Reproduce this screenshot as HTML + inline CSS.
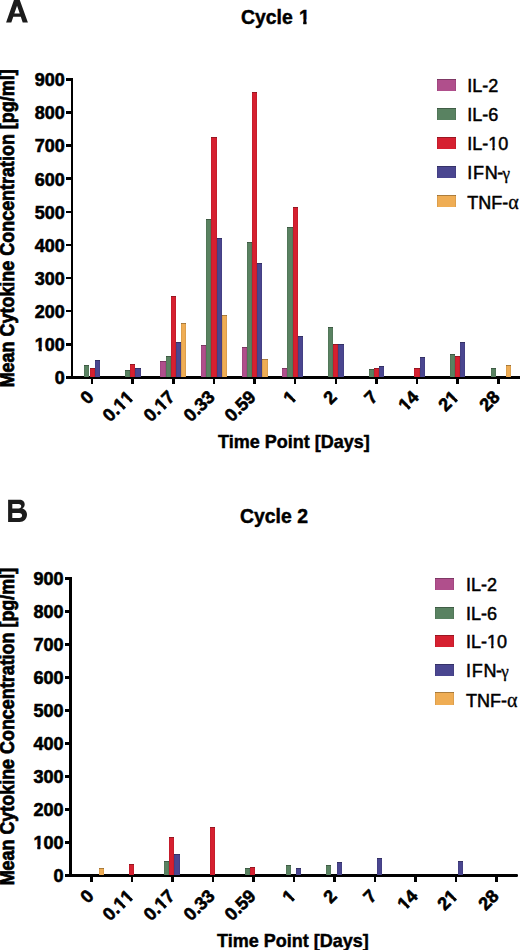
<!DOCTYPE html>
<html><head><meta charset="utf-8"><style>
html,body{margin:0;padding:0;background:#fff;}
body{width:520px;height:950px;position:relative;overflow:hidden;font-family:"Liberation Sans", sans-serif;}
div,span{position:absolute;}
span{white-space:nowrap;}
</style></head><body>
<div style="left:70.80px;top:78.10px;width:2.60px;height:300.60px;background:#000;"></div>
<div style="left:70.80px;top:376.10px;width:449.20px;height:2.60px;background:#000;"></div>
<div style="left:66.00px;top:376.10px;width:5.30px;height:2.60px;background:#000;"></div>
<span style="right:455.20px;top:369.27px;font-size:18px;line-height:18px;font-weight:bold;color:#000;-webkit-text-stroke:0.6px #000;">0</span>
<div style="left:66.00px;top:342.99px;width:5.30px;height:2.60px;background:#000;"></div>
<span style="right:455.20px;top:336.16px;font-size:18px;line-height:18px;font-weight:bold;color:#000;-webkit-text-stroke:0.6px #000;"><i style="font-style:normal;display:inline-block;clip-path:polygon(-20% -20%,120% -20%,120% 62%,69.5% 62%,69.5% 120%,39% 120%,39% 62%,-20% 62%)">1</i>00</span>
<div style="left:66.00px;top:309.88px;width:5.30px;height:2.60px;background:#000;"></div>
<span style="right:455.20px;top:303.05px;font-size:18px;line-height:18px;font-weight:bold;color:#000;-webkit-text-stroke:0.6px #000;">200</span>
<div style="left:66.00px;top:276.77px;width:5.30px;height:2.60px;background:#000;"></div>
<span style="right:455.20px;top:269.94px;font-size:18px;line-height:18px;font-weight:bold;color:#000;-webkit-text-stroke:0.6px #000;">300</span>
<div style="left:66.00px;top:243.66px;width:5.30px;height:2.60px;background:#000;"></div>
<span style="right:455.20px;top:236.82px;font-size:18px;line-height:18px;font-weight:bold;color:#000;-webkit-text-stroke:0.6px #000;">400</span>
<div style="left:66.00px;top:210.54px;width:5.30px;height:2.60px;background:#000;"></div>
<span style="right:455.20px;top:203.71px;font-size:18px;line-height:18px;font-weight:bold;color:#000;-webkit-text-stroke:0.6px #000;">500</span>
<div style="left:66.00px;top:177.43px;width:5.30px;height:2.60px;background:#000;"></div>
<span style="right:455.20px;top:170.60px;font-size:18px;line-height:18px;font-weight:bold;color:#000;-webkit-text-stroke:0.6px #000;">600</span>
<div style="left:66.00px;top:144.32px;width:5.30px;height:2.60px;background:#000;"></div>
<span style="right:455.20px;top:137.49px;font-size:18px;line-height:18px;font-weight:bold;color:#000;-webkit-text-stroke:0.6px #000;">700</span>
<div style="left:66.00px;top:111.21px;width:5.30px;height:2.60px;background:#000;"></div>
<span style="right:455.20px;top:104.38px;font-size:18px;line-height:18px;font-weight:bold;color:#000;-webkit-text-stroke:0.6px #000;">800</span>
<div style="left:66.00px;top:78.10px;width:5.30px;height:2.60px;background:#000;"></div>
<span style="right:455.20px;top:71.27px;font-size:18px;line-height:18px;font-weight:bold;color:#000;-webkit-text-stroke:0.6px #000;">900</span>
<div style="left:90.80px;top:378.20px;width:2.60px;height:5.60px;background:#000;"></div>
<div style="left:84.30px;top:364.50px;width:5.20px;height:12.10px;background:#598261;box-shadow:inset 0 1px 0 rgba(0,0,0,.28),inset 1px 0 0 rgba(0,0,0,.08),inset -1px 0 0 rgba(0,0,0,.08);"></div>
<div style="left:89.50px;top:367.80px;width:5.20px;height:8.80px;background:#d62030;box-shadow:inset 0 1px 0 rgba(0,0,0,.28),inset 1px 0 0 rgba(0,0,0,.08),inset -1px 0 0 rgba(0,0,0,.08);"></div>
<div style="left:94.70px;top:359.80px;width:5.20px;height:16.80px;background:#4a4690;box-shadow:inset 0 1px 0 rgba(0,0,0,.28),inset 1px 0 0 rgba(0,0,0,.08),inset -1px 0 0 rgba(0,0,0,.08);"></div>
<span style="right:425.40px;top:383.36px;font-size:18px;line-height:18px;font-weight:bold;transform-origin:100% 15.24px;transform:rotate(-45deg);-webkit-text-stroke:0.6px #000;">0</span>
<div style="left:131.42px;top:378.20px;width:2.60px;height:5.60px;background:#000;"></div>
<div style="left:124.92px;top:370.00px;width:5.20px;height:6.60px;background:#598261;box-shadow:inset 0 1px 0 rgba(0,0,0,.28),inset 1px 0 0 rgba(0,0,0,.08),inset -1px 0 0 rgba(0,0,0,.08);"></div>
<div style="left:130.12px;top:363.80px;width:5.20px;height:12.80px;background:#d62030;box-shadow:inset 0 1px 0 rgba(0,0,0,.28),inset 1px 0 0 rgba(0,0,0,.08),inset -1px 0 0 rgba(0,0,0,.08);"></div>
<div style="left:135.32px;top:368.00px;width:5.20px;height:8.60px;background:#4a4690;box-shadow:inset 0 1px 0 rgba(0,0,0,.28),inset 1px 0 0 rgba(0,0,0,.08),inset -1px 0 0 rgba(0,0,0,.08);"></div>
<span style="right:384.78px;top:383.36px;font-size:18px;line-height:18px;font-weight:bold;transform-origin:100% 15.24px;transform:rotate(-45deg);-webkit-text-stroke:0.6px #000;">0.<i style="font-style:normal;display:inline-block;clip-path:polygon(-20% -20%,120% -20%,120% 62%,69.5% 62%,69.5% 120%,39% 120%,39% 62%,-20% 62%)">1</i><i style="font-style:normal;display:inline-block;clip-path:polygon(-20% -20%,120% -20%,120% 62%,69.5% 62%,69.5% 120%,39% 120%,39% 62%,-20% 62%)">1</i></span>
<div style="left:172.04px;top:378.20px;width:2.60px;height:5.60px;background:#000;"></div>
<div style="left:160.34px;top:361.30px;width:5.20px;height:15.30px;background:#b04f8c;box-shadow:inset 0 1px 0 rgba(0,0,0,.28),inset 1px 0 0 rgba(0,0,0,.08),inset -1px 0 0 rgba(0,0,0,.08);"></div>
<div style="left:165.54px;top:355.60px;width:5.20px;height:21.00px;background:#598261;box-shadow:inset 0 1px 0 rgba(0,0,0,.28),inset 1px 0 0 rgba(0,0,0,.08),inset -1px 0 0 rgba(0,0,0,.08);"></div>
<div style="left:170.74px;top:295.90px;width:5.20px;height:80.70px;background:#d62030;box-shadow:inset 0 1px 0 rgba(0,0,0,.28),inset 1px 0 0 rgba(0,0,0,.08),inset -1px 0 0 rgba(0,0,0,.08);"></div>
<div style="left:175.94px;top:341.60px;width:5.20px;height:35.00px;background:#4a4690;box-shadow:inset 0 1px 0 rgba(0,0,0,.28),inset 1px 0 0 rgba(0,0,0,.08),inset -1px 0 0 rgba(0,0,0,.08);"></div>
<div style="left:181.14px;top:322.60px;width:5.20px;height:54.00px;background:#efad54;box-shadow:inset 0 1px 0 rgba(0,0,0,.28),inset 1px 0 0 rgba(0,0,0,.08),inset -1px 0 0 rgba(0,0,0,.08);"></div>
<span style="right:344.16px;top:383.36px;font-size:18px;line-height:18px;font-weight:bold;transform-origin:100% 15.24px;transform:rotate(-45deg);-webkit-text-stroke:0.6px #000;">0.<i style="font-style:normal;display:inline-block;clip-path:polygon(-20% -20%,120% -20%,120% 62%,69.5% 62%,69.5% 120%,39% 120%,39% 62%,-20% 62%)">1</i>7</span>
<div style="left:212.66px;top:378.20px;width:2.60px;height:5.60px;background:#000;"></div>
<div style="left:200.96px;top:345.00px;width:5.20px;height:31.60px;background:#b04f8c;box-shadow:inset 0 1px 0 rgba(0,0,0,.28),inset 1px 0 0 rgba(0,0,0,.08),inset -1px 0 0 rgba(0,0,0,.08);"></div>
<div style="left:206.16px;top:218.70px;width:5.20px;height:157.90px;background:#598261;box-shadow:inset 0 1px 0 rgba(0,0,0,.28),inset 1px 0 0 rgba(0,0,0,.08),inset -1px 0 0 rgba(0,0,0,.08);"></div>
<div style="left:211.36px;top:137.20px;width:5.20px;height:239.40px;background:#d62030;box-shadow:inset 0 1px 0 rgba(0,0,0,.28),inset 1px 0 0 rgba(0,0,0,.08),inset -1px 0 0 rgba(0,0,0,.08);"></div>
<div style="left:216.56px;top:237.70px;width:5.20px;height:138.90px;background:#4a4690;box-shadow:inset 0 1px 0 rgba(0,0,0,.28),inset 1px 0 0 rgba(0,0,0,.08),inset -1px 0 0 rgba(0,0,0,.08);"></div>
<div style="left:221.76px;top:314.50px;width:5.20px;height:62.10px;background:#efad54;box-shadow:inset 0 1px 0 rgba(0,0,0,.28),inset 1px 0 0 rgba(0,0,0,.08),inset -1px 0 0 rgba(0,0,0,.08);"></div>
<span style="right:303.54px;top:383.36px;font-size:18px;line-height:18px;font-weight:bold;transform-origin:100% 15.24px;transform:rotate(-45deg);-webkit-text-stroke:0.6px #000;">0.33</span>
<div style="left:253.28px;top:378.20px;width:2.60px;height:5.60px;background:#000;"></div>
<div style="left:241.58px;top:347.30px;width:5.20px;height:29.30px;background:#b04f8c;box-shadow:inset 0 1px 0 rgba(0,0,0,.28),inset 1px 0 0 rgba(0,0,0,.08),inset -1px 0 0 rgba(0,0,0,.08);"></div>
<div style="left:246.78px;top:242.10px;width:5.20px;height:134.50px;background:#598261;box-shadow:inset 0 1px 0 rgba(0,0,0,.28),inset 1px 0 0 rgba(0,0,0,.08),inset -1px 0 0 rgba(0,0,0,.08);"></div>
<div style="left:251.98px;top:91.60px;width:5.20px;height:285.00px;background:#d62030;box-shadow:inset 0 1px 0 rgba(0,0,0,.28),inset 1px 0 0 rgba(0,0,0,.08),inset -1px 0 0 rgba(0,0,0,.08);"></div>
<div style="left:257.18px;top:262.90px;width:5.20px;height:113.70px;background:#4a4690;box-shadow:inset 0 1px 0 rgba(0,0,0,.28),inset 1px 0 0 rgba(0,0,0,.08),inset -1px 0 0 rgba(0,0,0,.08);"></div>
<div style="left:262.38px;top:359.10px;width:5.20px;height:17.50px;background:#efad54;box-shadow:inset 0 1px 0 rgba(0,0,0,.28),inset 1px 0 0 rgba(0,0,0,.08),inset -1px 0 0 rgba(0,0,0,.08);"></div>
<span style="right:262.92px;top:383.36px;font-size:18px;line-height:18px;font-weight:bold;transform-origin:100% 15.24px;transform:rotate(-45deg);-webkit-text-stroke:0.6px #000;">0.59</span>
<div style="left:293.90px;top:378.20px;width:2.60px;height:5.60px;background:#000;"></div>
<div style="left:282.20px;top:368.10px;width:5.20px;height:8.50px;background:#b04f8c;box-shadow:inset 0 1px 0 rgba(0,0,0,.28),inset 1px 0 0 rgba(0,0,0,.08),inset -1px 0 0 rgba(0,0,0,.08);"></div>
<div style="left:287.40px;top:226.60px;width:5.20px;height:150.00px;background:#598261;box-shadow:inset 0 1px 0 rgba(0,0,0,.28),inset 1px 0 0 rgba(0,0,0,.08),inset -1px 0 0 rgba(0,0,0,.08);"></div>
<div style="left:292.60px;top:206.50px;width:5.20px;height:170.10px;background:#d62030;box-shadow:inset 0 1px 0 rgba(0,0,0,.28),inset 1px 0 0 rgba(0,0,0,.08),inset -1px 0 0 rgba(0,0,0,.08);"></div>
<div style="left:297.80px;top:335.90px;width:5.20px;height:40.70px;background:#4a4690;box-shadow:inset 0 1px 0 rgba(0,0,0,.28),inset 1px 0 0 rgba(0,0,0,.08),inset -1px 0 0 rgba(0,0,0,.08);"></div>
<span style="right:222.30px;top:383.36px;font-size:18px;line-height:18px;font-weight:bold;transform-origin:100% 15.24px;transform:rotate(-45deg);-webkit-text-stroke:0.6px #000;"><i style="font-style:normal;display:inline-block;clip-path:polygon(-20% -20%,120% -20%,120% 62%,69.5% 62%,69.5% 120%,39% 120%,39% 62%,-20% 62%)">1</i></span>
<div style="left:334.52px;top:378.20px;width:2.60px;height:5.60px;background:#000;"></div>
<div style="left:328.02px;top:326.90px;width:5.20px;height:49.70px;background:#598261;box-shadow:inset 0 1px 0 rgba(0,0,0,.28),inset 1px 0 0 rgba(0,0,0,.08),inset -1px 0 0 rgba(0,0,0,.08);"></div>
<div style="left:333.22px;top:343.90px;width:5.20px;height:32.70px;background:#d62030;box-shadow:inset 0 1px 0 rgba(0,0,0,.28),inset 1px 0 0 rgba(0,0,0,.08),inset -1px 0 0 rgba(0,0,0,.08);"></div>
<div style="left:338.42px;top:343.90px;width:5.20px;height:32.70px;background:#4a4690;box-shadow:inset 0 1px 0 rgba(0,0,0,.28),inset 1px 0 0 rgba(0,0,0,.08),inset -1px 0 0 rgba(0,0,0,.08);"></div>
<span style="right:181.68px;top:383.36px;font-size:18px;line-height:18px;font-weight:bold;transform-origin:100% 15.24px;transform:rotate(-45deg);-webkit-text-stroke:0.6px #000;">2</span>
<div style="left:375.14px;top:378.20px;width:2.60px;height:5.60px;background:#000;"></div>
<div style="left:368.64px;top:369.40px;width:5.20px;height:7.20px;background:#598261;box-shadow:inset 0 1px 0 rgba(0,0,0,.28),inset 1px 0 0 rgba(0,0,0,.08),inset -1px 0 0 rgba(0,0,0,.08);"></div>
<div style="left:373.84px;top:368.10px;width:5.20px;height:8.50px;background:#d62030;box-shadow:inset 0 1px 0 rgba(0,0,0,.28),inset 1px 0 0 rgba(0,0,0,.08),inset -1px 0 0 rgba(0,0,0,.08);"></div>
<div style="left:379.04px;top:366.30px;width:5.20px;height:10.30px;background:#4a4690;box-shadow:inset 0 1px 0 rgba(0,0,0,.28),inset 1px 0 0 rgba(0,0,0,.08),inset -1px 0 0 rgba(0,0,0,.08);"></div>
<span style="right:141.06px;top:383.36px;font-size:18px;line-height:18px;font-weight:bold;transform-origin:100% 15.24px;transform:rotate(-45deg);-webkit-text-stroke:0.6px #000;">7</span>
<div style="left:415.76px;top:378.20px;width:2.60px;height:5.60px;background:#000;"></div>
<div style="left:414.46px;top:368.30px;width:5.20px;height:8.30px;background:#d62030;box-shadow:inset 0 1px 0 rgba(0,0,0,.28),inset 1px 0 0 rgba(0,0,0,.08),inset -1px 0 0 rgba(0,0,0,.08);"></div>
<div style="left:419.66px;top:356.70px;width:5.20px;height:19.90px;background:#4a4690;box-shadow:inset 0 1px 0 rgba(0,0,0,.28),inset 1px 0 0 rgba(0,0,0,.08),inset -1px 0 0 rgba(0,0,0,.08);"></div>
<span style="right:100.44px;top:383.36px;font-size:18px;line-height:18px;font-weight:bold;transform-origin:100% 15.24px;transform:rotate(-45deg);-webkit-text-stroke:0.6px #000;"><i style="font-style:normal;display:inline-block;clip-path:polygon(-20% -20%,120% -20%,120% 62%,69.5% 62%,69.5% 120%,39% 120%,39% 62%,-20% 62%)">1</i>4</span>
<div style="left:456.38px;top:378.20px;width:2.60px;height:5.60px;background:#000;"></div>
<div style="left:449.88px;top:354.10px;width:5.20px;height:22.50px;background:#598261;box-shadow:inset 0 1px 0 rgba(0,0,0,.28),inset 1px 0 0 rgba(0,0,0,.08),inset -1px 0 0 rgba(0,0,0,.08);"></div>
<div style="left:455.08px;top:356.30px;width:5.20px;height:20.30px;background:#d62030;box-shadow:inset 0 1px 0 rgba(0,0,0,.28),inset 1px 0 0 rgba(0,0,0,.08),inset -1px 0 0 rgba(0,0,0,.08);"></div>
<div style="left:460.28px;top:341.60px;width:5.20px;height:35.00px;background:#4a4690;box-shadow:inset 0 1px 0 rgba(0,0,0,.28),inset 1px 0 0 rgba(0,0,0,.08),inset -1px 0 0 rgba(0,0,0,.08);"></div>
<span style="right:59.82px;top:383.36px;font-size:18px;line-height:18px;font-weight:bold;transform-origin:100% 15.24px;transform:rotate(-45deg);-webkit-text-stroke:0.6px #000;">2<i style="font-style:normal;display:inline-block;clip-path:polygon(-20% -20%,120% -20%,120% 62%,69.5% 62%,69.5% 120%,39% 120%,39% 62%,-20% 62%)">1</i></span>
<div style="left:497.00px;top:378.20px;width:2.60px;height:5.60px;background:#000;"></div>
<div style="left:490.50px;top:368.00px;width:5.20px;height:8.60px;background:#598261;box-shadow:inset 0 1px 0 rgba(0,0,0,.28),inset 1px 0 0 rgba(0,0,0,.08),inset -1px 0 0 rgba(0,0,0,.08);"></div>
<div style="left:506.10px;top:365.00px;width:5.20px;height:11.60px;background:#efad54;box-shadow:inset 0 1px 0 rgba(0,0,0,.28),inset 1px 0 0 rgba(0,0,0,.08),inset -1px 0 0 rgba(0,0,0,.08);"></div>
<span style="right:19.20px;top:383.36px;font-size:18px;line-height:18px;font-weight:bold;transform-origin:100% 15.24px;transform:rotate(-45deg);-webkit-text-stroke:0.6px #000;">28</span>
<div style="left:437.00px;top:79.20px;width:19.20px;height:12.30px;background:#b04f8c;box-shadow:inset 0 1px 0 rgba(0,0,0,.28),inset 1px 0 0 rgba(0,0,0,.08),inset -1px 0 0 rgba(0,0,0,.08);"></div>
<span style="left:467.20px;top:77.46px;font-size:18px;line-height:18px;font-weight:normal;color:#000;-webkit-text-stroke:0.5px #000;">IL-2</span>
<div style="left:437.00px;top:108.15px;width:19.20px;height:12.30px;background:#598261;box-shadow:inset 0 1px 0 rgba(0,0,0,.28),inset 1px 0 0 rgba(0,0,0,.08),inset -1px 0 0 rgba(0,0,0,.08);"></div>
<span style="left:467.20px;top:106.41px;font-size:18px;line-height:18px;font-weight:normal;color:#000;-webkit-text-stroke:0.5px #000;">IL-6</span>
<div style="left:437.00px;top:137.10px;width:19.20px;height:12.30px;background:#d62030;box-shadow:inset 0 1px 0 rgba(0,0,0,.28),inset 1px 0 0 rgba(0,0,0,.08),inset -1px 0 0 rgba(0,0,0,.08);"></div>
<span style="left:467.20px;top:135.36px;font-size:18px;line-height:18px;font-weight:normal;color:#000;-webkit-text-stroke:0.5px #000;">IL-<i style="font-style:normal;display:inline-block;clip-path:polygon(-20% -20%,120% -20%,120% 64%,64.5% 64%,64.5% 120%,42% 120%,42% 64%,-20% 64%)">1</i>0</span>
<div style="left:437.00px;top:166.05px;width:19.20px;height:12.30px;background:#4a4690;box-shadow:inset 0 1px 0 rgba(0,0,0,.28),inset 1px 0 0 rgba(0,0,0,.08),inset -1px 0 0 rgba(0,0,0,.08);"></div>
<span style="left:467.20px;top:164.31px;font-size:18px;line-height:18px;font-weight:normal;color:#000;-webkit-text-stroke:0.5px #000;"><b style="font-weight:normal;letter-spacing:0.8px">IFN</b><b style="font-weight:normal;margin-left:-1.3px">-</b><b style="font-weight:normal;font-family:'Liberation Serif',serif;font-size:17px;margin-left:-0.9px;-webkit-text-stroke:0.3px #000">&gamma;</b></span>
<div style="left:437.00px;top:195.00px;width:19.20px;height:12.30px;background:#efad54;box-shadow:inset 0 1px 0 rgba(0,0,0,.28),inset 1px 0 0 rgba(0,0,0,.08),inset -1px 0 0 rgba(0,0,0,.08);"></div>
<span style="left:467.20px;top:193.26px;font-size:18px;line-height:18px;font-weight:normal;color:#000;-webkit-text-stroke:0.5px #000;">TNF-<b style="font-weight:normal;font-family:'Liberation Serif',serif;font-size:20px;-webkit-text-stroke:0.3px #000">&alpha;</b></span>
<span style="left:241.20px;top:6.77px;font-size:20px;line-height:20px;font-weight:bold;color:#000;-webkit-text-stroke:0.45px #000;transform:scaleX(0.97);transform-origin:0 0;">Cycle <b style="margin-left:0.9px"><i style="font-style:normal;display:inline-block;clip-path:polygon(-20% -20%,120% -20%,120% 62%,69.5% 62%,69.5% 120%,39% 120%,39% 62%,-20% 62%)">1</i></b></span>
<span style="left:218.40px;top:433.24px;font-size:18.5px;line-height:18.5px;font-weight:bold;color:#000;-webkit-text-stroke:0.45px #000;transform:scaleX(0.974);transform-origin:0 0;">Time Point [Days]</span>
<span style="left:13.70px;top:370.96px;font-size:19.3px;line-height:19.3px;font-weight:bold;transform-origin:0 16.34px;transform:rotate(-90deg) scaleX(0.9306);-webkit-text-stroke:0.75px #000;">Mean Cytokine Concentration [pg/ml]</span>
<div style="left:69.30px;top:577.10px;width:2.60px;height:299.80px;background:#000;"></div>
<div style="left:69.30px;top:874.30px;width:448.70px;height:2.60px;background:#000;border-radius:0 1.3px 1.3px 0;"></div>
<div style="left:64.70px;top:874.30px;width:5.10px;height:2.60px;background:#000;"></div>
<span style="right:456.50px;top:867.47px;font-size:18px;line-height:18px;font-weight:bold;color:#000;-webkit-text-stroke:0.6px #000;">0</span>
<div style="left:64.70px;top:841.28px;width:5.10px;height:2.60px;background:#000;"></div>
<span style="right:456.50px;top:834.45px;font-size:18px;line-height:18px;font-weight:bold;color:#000;-webkit-text-stroke:0.6px #000;"><i style="font-style:normal;display:inline-block;clip-path:polygon(-20% -20%,120% -20%,120% 62%,69.5% 62%,69.5% 120%,39% 120%,39% 62%,-20% 62%)">1</i>00</span>
<div style="left:64.70px;top:808.26px;width:5.10px;height:2.60px;background:#000;"></div>
<span style="right:456.50px;top:801.42px;font-size:18px;line-height:18px;font-weight:bold;color:#000;-webkit-text-stroke:0.6px #000;">200</span>
<div style="left:64.70px;top:775.23px;width:5.10px;height:2.60px;background:#000;"></div>
<span style="right:456.50px;top:768.40px;font-size:18px;line-height:18px;font-weight:bold;color:#000;-webkit-text-stroke:0.6px #000;">300</span>
<div style="left:64.70px;top:742.21px;width:5.10px;height:2.60px;background:#000;"></div>
<span style="right:456.50px;top:735.38px;font-size:18px;line-height:18px;font-weight:bold;color:#000;-webkit-text-stroke:0.6px #000;">400</span>
<div style="left:64.70px;top:709.19px;width:5.10px;height:2.60px;background:#000;"></div>
<span style="right:456.50px;top:702.36px;font-size:18px;line-height:18px;font-weight:bold;color:#000;-webkit-text-stroke:0.6px #000;">500</span>
<div style="left:64.70px;top:676.17px;width:5.10px;height:2.60px;background:#000;"></div>
<span style="right:456.50px;top:669.34px;font-size:18px;line-height:18px;font-weight:bold;color:#000;-webkit-text-stroke:0.6px #000;">600</span>
<div style="left:64.70px;top:643.14px;width:5.10px;height:2.60px;background:#000;"></div>
<span style="right:456.50px;top:636.31px;font-size:18px;line-height:18px;font-weight:bold;color:#000;-webkit-text-stroke:0.6px #000;">700</span>
<div style="left:64.70px;top:610.12px;width:5.10px;height:2.60px;background:#000;"></div>
<span style="right:456.50px;top:603.29px;font-size:18px;line-height:18px;font-weight:bold;color:#000;-webkit-text-stroke:0.6px #000;">800</span>
<div style="left:64.70px;top:577.10px;width:5.10px;height:2.60px;background:#000;"></div>
<span style="right:456.50px;top:570.27px;font-size:18px;line-height:18px;font-weight:bold;color:#000;-webkit-text-stroke:0.6px #000;">900</span>
<div style="left:90.10px;top:876.40px;width:2.60px;height:5.50px;background:#000;"></div>
<div style="left:98.55px;top:867.50px;width:5.10px;height:7.30px;background:#efad54;box-shadow:inset 0 1px 0 rgba(0,0,0,.28),inset 1px 0 0 rgba(0,0,0,.08),inset -1px 0 0 rgba(0,0,0,.08);"></div>
<span style="right:425.40px;top:881.96px;font-size:18px;line-height:18px;font-weight:bold;transform-origin:100% 15.24px;transform:rotate(-45deg);-webkit-text-stroke:0.6px #000;">0</span>
<div style="left:130.61px;top:876.40px;width:2.60px;height:5.50px;background:#000;"></div>
<div style="left:128.86px;top:864.00px;width:5.10px;height:10.80px;background:#d62030;box-shadow:inset 0 1px 0 rgba(0,0,0,.28),inset 1px 0 0 rgba(0,0,0,.08),inset -1px 0 0 rgba(0,0,0,.08);"></div>
<span style="right:384.89px;top:881.96px;font-size:18px;line-height:18px;font-weight:bold;transform-origin:100% 15.24px;transform:rotate(-45deg);-webkit-text-stroke:0.6px #000;">0.<i style="font-style:normal;display:inline-block;clip-path:polygon(-20% -20%,120% -20%,120% 62%,69.5% 62%,69.5% 120%,39% 120%,39% 62%,-20% 62%)">1</i><i style="font-style:normal;display:inline-block;clip-path:polygon(-20% -20%,120% -20%,120% 62%,69.5% 62%,69.5% 120%,39% 120%,39% 62%,-20% 62%)">1</i></span>
<div style="left:171.12px;top:876.40px;width:2.60px;height:5.50px;background:#000;"></div>
<div style="left:164.27px;top:861.40px;width:5.10px;height:13.40px;background:#598261;box-shadow:inset 0 1px 0 rgba(0,0,0,.28),inset 1px 0 0 rgba(0,0,0,.08),inset -1px 0 0 rgba(0,0,0,.08);"></div>
<div style="left:169.37px;top:836.50px;width:5.10px;height:38.30px;background:#d62030;box-shadow:inset 0 1px 0 rgba(0,0,0,.28),inset 1px 0 0 rgba(0,0,0,.08),inset -1px 0 0 rgba(0,0,0,.08);"></div>
<div style="left:174.47px;top:854.00px;width:5.10px;height:20.80px;background:#4a4690;box-shadow:inset 0 1px 0 rgba(0,0,0,.28),inset 1px 0 0 rgba(0,0,0,.08),inset -1px 0 0 rgba(0,0,0,.08);"></div>
<span style="right:344.38px;top:881.96px;font-size:18px;line-height:18px;font-weight:bold;transform-origin:100% 15.24px;transform:rotate(-45deg);-webkit-text-stroke:0.6px #000;">0.<i style="font-style:normal;display:inline-block;clip-path:polygon(-20% -20%,120% -20%,120% 62%,69.5% 62%,69.5% 120%,39% 120%,39% 62%,-20% 62%)">1</i>7</span>
<div style="left:211.63px;top:876.40px;width:2.60px;height:5.50px;background:#000;"></div>
<div style="left:209.88px;top:827.00px;width:5.10px;height:47.80px;background:#d62030;box-shadow:inset 0 1px 0 rgba(0,0,0,.28),inset 1px 0 0 rgba(0,0,0,.08),inset -1px 0 0 rgba(0,0,0,.08);"></div>
<span style="right:303.87px;top:881.96px;font-size:18px;line-height:18px;font-weight:bold;transform-origin:100% 15.24px;transform:rotate(-45deg);-webkit-text-stroke:0.6px #000;">0.33</span>
<div style="left:252.14px;top:876.40px;width:2.60px;height:5.50px;background:#000;"></div>
<div style="left:245.29px;top:868.20px;width:5.10px;height:6.60px;background:#598261;box-shadow:inset 0 1px 0 rgba(0,0,0,.28),inset 1px 0 0 rgba(0,0,0,.08),inset -1px 0 0 rgba(0,0,0,.08);"></div>
<div style="left:250.39px;top:867.10px;width:5.10px;height:7.70px;background:#d62030;box-shadow:inset 0 1px 0 rgba(0,0,0,.28),inset 1px 0 0 rgba(0,0,0,.08),inset -1px 0 0 rgba(0,0,0,.08);"></div>
<span style="right:263.36px;top:881.96px;font-size:18px;line-height:18px;font-weight:bold;transform-origin:100% 15.24px;transform:rotate(-45deg);-webkit-text-stroke:0.6px #000;">0.59</span>
<div style="left:292.65px;top:876.40px;width:2.60px;height:5.50px;background:#000;"></div>
<div style="left:285.80px;top:864.80px;width:5.10px;height:10.00px;background:#598261;box-shadow:inset 0 1px 0 rgba(0,0,0,.28),inset 1px 0 0 rgba(0,0,0,.08),inset -1px 0 0 rgba(0,0,0,.08);"></div>
<div style="left:296.00px;top:868.00px;width:5.10px;height:6.80px;background:#4a4690;box-shadow:inset 0 1px 0 rgba(0,0,0,.28),inset 1px 0 0 rgba(0,0,0,.08),inset -1px 0 0 rgba(0,0,0,.08);"></div>
<span style="right:222.85px;top:881.96px;font-size:18px;line-height:18px;font-weight:bold;transform-origin:100% 15.24px;transform:rotate(-45deg);-webkit-text-stroke:0.6px #000;"><i style="font-style:normal;display:inline-block;clip-path:polygon(-20% -20%,120% -20%,120% 62%,69.5% 62%,69.5% 120%,39% 120%,39% 62%,-20% 62%)">1</i></span>
<div style="left:333.16px;top:876.40px;width:2.60px;height:5.50px;background:#000;"></div>
<div style="left:326.31px;top:864.50px;width:5.10px;height:10.30px;background:#598261;box-shadow:inset 0 1px 0 rgba(0,0,0,.28),inset 1px 0 0 rgba(0,0,0,.08),inset -1px 0 0 rgba(0,0,0,.08);"></div>
<div style="left:336.51px;top:862.00px;width:5.10px;height:12.80px;background:#4a4690;box-shadow:inset 0 1px 0 rgba(0,0,0,.28),inset 1px 0 0 rgba(0,0,0,.08),inset -1px 0 0 rgba(0,0,0,.08);"></div>
<span style="right:182.34px;top:881.96px;font-size:18px;line-height:18px;font-weight:bold;transform-origin:100% 15.24px;transform:rotate(-45deg);-webkit-text-stroke:0.6px #000;">2</span>
<div style="left:373.67px;top:876.40px;width:2.60px;height:5.50px;background:#000;"></div>
<div style="left:377.02px;top:858.00px;width:5.10px;height:16.80px;background:#4a4690;box-shadow:inset 0 1px 0 rgba(0,0,0,.28),inset 1px 0 0 rgba(0,0,0,.08),inset -1px 0 0 rgba(0,0,0,.08);"></div>
<span style="right:141.83px;top:881.96px;font-size:18px;line-height:18px;font-weight:bold;transform-origin:100% 15.24px;transform:rotate(-45deg);-webkit-text-stroke:0.6px #000;">7</span>
<div style="left:414.18px;top:876.40px;width:2.60px;height:5.50px;background:#000;"></div>
<span style="right:101.32px;top:881.96px;font-size:18px;line-height:18px;font-weight:bold;transform-origin:100% 15.24px;transform:rotate(-45deg);-webkit-text-stroke:0.6px #000;"><i style="font-style:normal;display:inline-block;clip-path:polygon(-20% -20%,120% -20%,120% 62%,69.5% 62%,69.5% 120%,39% 120%,39% 62%,-20% 62%)">1</i>4</span>
<div style="left:454.69px;top:876.40px;width:2.60px;height:5.50px;background:#000;"></div>
<div style="left:458.04px;top:860.60px;width:5.10px;height:14.20px;background:#4a4690;box-shadow:inset 0 1px 0 rgba(0,0,0,.28),inset 1px 0 0 rgba(0,0,0,.08),inset -1px 0 0 rgba(0,0,0,.08);"></div>
<span style="right:60.81px;top:881.96px;font-size:18px;line-height:18px;font-weight:bold;transform-origin:100% 15.24px;transform:rotate(-45deg);-webkit-text-stroke:0.6px #000;">2<i style="font-style:normal;display:inline-block;clip-path:polygon(-20% -20%,120% -20%,120% 62%,69.5% 62%,69.5% 120%,39% 120%,39% 62%,-20% 62%)">1</i></span>
<div style="left:495.20px;top:876.40px;width:2.60px;height:5.50px;background:#000;"></div>
<span style="right:20.30px;top:881.96px;font-size:18px;line-height:18px;font-weight:bold;transform-origin:100% 15.24px;transform:rotate(-45deg);-webkit-text-stroke:0.6px #000;">28</span>
<div style="left:435.00px;top:578.10px;width:19.20px;height:12.30px;background:#b04f8c;box-shadow:inset 0 1px 0 rgba(0,0,0,.28),inset 1px 0 0 rgba(0,0,0,.08),inset -1px 0 0 rgba(0,0,0,.08);"></div>
<span style="left:466.00px;top:576.36px;font-size:18px;line-height:18px;font-weight:normal;color:#000;-webkit-text-stroke:0.5px #000;">IL-2</span>
<div style="left:435.00px;top:606.65px;width:19.20px;height:12.30px;background:#598261;box-shadow:inset 0 1px 0 rgba(0,0,0,.28),inset 1px 0 0 rgba(0,0,0,.08),inset -1px 0 0 rgba(0,0,0,.08);"></div>
<span style="left:466.00px;top:604.91px;font-size:18px;line-height:18px;font-weight:normal;color:#000;-webkit-text-stroke:0.5px #000;">IL-6</span>
<div style="left:435.00px;top:635.20px;width:19.20px;height:12.30px;background:#d62030;box-shadow:inset 0 1px 0 rgba(0,0,0,.28),inset 1px 0 0 rgba(0,0,0,.08),inset -1px 0 0 rgba(0,0,0,.08);"></div>
<span style="left:466.00px;top:633.46px;font-size:18px;line-height:18px;font-weight:normal;color:#000;-webkit-text-stroke:0.5px #000;">IL-<i style="font-style:normal;display:inline-block;clip-path:polygon(-20% -20%,120% -20%,120% 64%,64.5% 64%,64.5% 120%,42% 120%,42% 64%,-20% 64%)">1</i>0</span>
<div style="left:435.00px;top:663.75px;width:19.20px;height:12.30px;background:#4a4690;box-shadow:inset 0 1px 0 rgba(0,0,0,.28),inset 1px 0 0 rgba(0,0,0,.08),inset -1px 0 0 rgba(0,0,0,.08);"></div>
<span style="left:466.00px;top:662.01px;font-size:18px;line-height:18px;font-weight:normal;color:#000;-webkit-text-stroke:0.5px #000;"><b style="font-weight:normal;letter-spacing:0.8px">IFN</b><b style="font-weight:normal;margin-left:-1.3px">-</b><b style="font-weight:normal;font-family:'Liberation Serif',serif;font-size:17px;margin-left:-0.9px;-webkit-text-stroke:0.3px #000">&gamma;</b></span>
<div style="left:435.00px;top:692.30px;width:19.20px;height:12.30px;background:#efad54;box-shadow:inset 0 1px 0 rgba(0,0,0,.28),inset 1px 0 0 rgba(0,0,0,.08),inset -1px 0 0 rgba(0,0,0,.08);"></div>
<span style="left:466.00px;top:690.56px;font-size:18px;line-height:18px;font-weight:normal;color:#000;-webkit-text-stroke:0.5px #000;">TNF-<b style="font-weight:normal;font-family:'Liberation Serif',serif;font-size:20px;-webkit-text-stroke:0.3px #000">&alpha;</b></span>
<span style="left:239.80px;top:506.07px;font-size:20px;line-height:20px;font-weight:bold;color:#000;-webkit-text-stroke:0.45px #000;transform:scaleX(0.97);transform-origin:0 0;">Cycle 2</span>
<span style="left:217.10px;top:931.64px;font-size:18.5px;line-height:18.5px;font-weight:bold;color:#000;-webkit-text-stroke:0.45px #000;transform:scaleX(0.974);transform-origin:0 0;">Time Point [Days]</span>
<span style="left:13.50px;top:869.16px;font-size:19.3px;line-height:19.3px;font-weight:bold;transform-origin:0 16.34px;transform:rotate(-90deg) scaleX(0.929);-webkit-text-stroke:0.75px #000;">Mean Cytokine Concentration [pg/ml]</span>
<svg style="position:absolute;left:0;top:0" width="34" height="26" viewBox="0 0 34 26"><path fill="#1c1c1c" fill-rule="evenodd" d="M6.1 22.5L14.3 -1L19.4 -1L27.9 22.5L22.7 22.5L20.8 16.8L13.3 16.8L11.3 22.5Z M14.35 13.5L17.05 5.7L19.75 13.5Z"/></svg>
<svg style="position:absolute;left:0;top:496px" width="34" height="30" viewBox="0 0 34 30"><path fill="#1c1c1c" fill-rule="evenodd" d="M8.1 3.8H19.3C22.7 3.8 24.7 5.7 24.7 8.4C24.7 10.3 23.7 11.7 22.3 12.4C24.6 13.1 27 15 27 18.5C27 23 23.9 26 19.6 26H8.1Z M12.3 8H18.6C20.3 8 21.2 9 21.2 10.25C21.2 11.5 20.3 12.5 18.6 12.5H12.3Z M12.3 17H19.2C21 17 22.1 18.1 22.1 19.5C22.1 20.9 21 22 19.2 22H12.3Z"/></svg>
</body></html>
